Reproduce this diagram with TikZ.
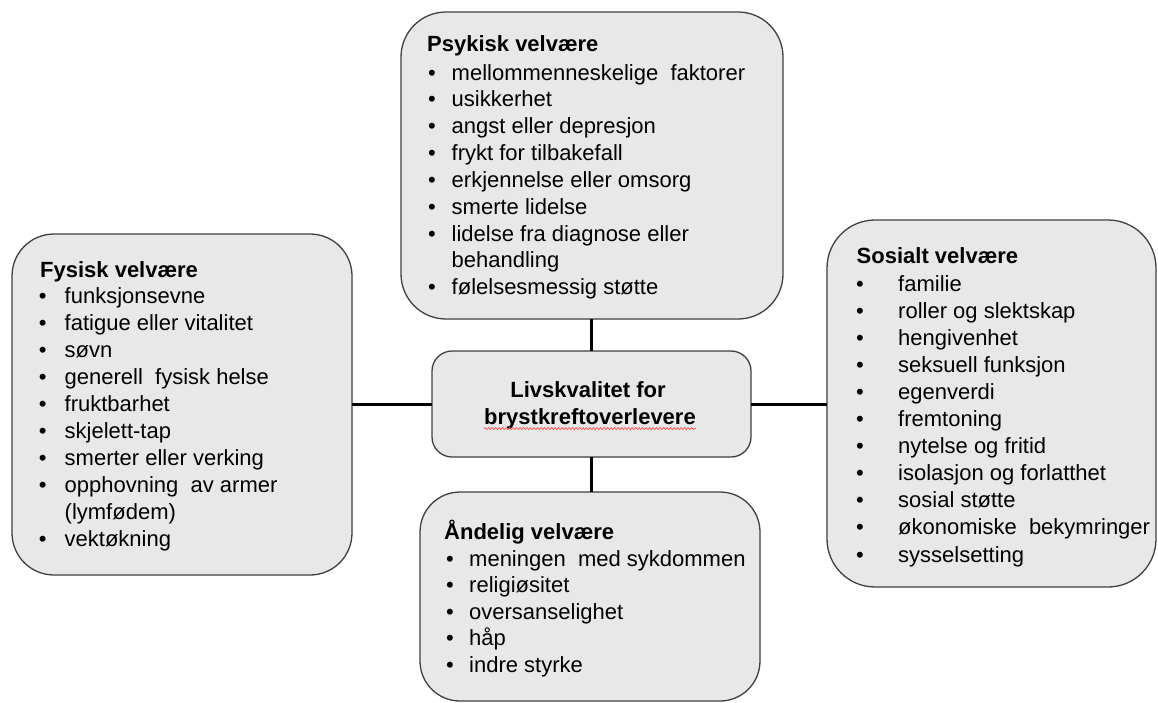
\documentclass[tikz,border=0pt]{standalone}
\usepackage{fontspec}
\setmainfont{Liberation Sans}
\usetikzlibrary{decorations.pathmorphing}
\definecolor{boxfill}{HTML}{E8E8E8}
\definecolor{boxline}{HTML}{404040}
\begin{document}
\begin{tikzpicture}[x=1pt,y=-1pt,
  panel/.style={draw=boxline, fill=boxfill, line width=1.3pt, inner sep=0pt, outer sep=0pt},
  head/.style={anchor=base west, inner sep=0pt, font=\fontsize{22}{26}\selectfont\bfseries},
  mid/.style={anchor=base, inner sep=0pt, font=\fontsize{22}{26}\selectfont\bfseries},
  entry/.style={anchor=base west, inner sep=0pt, font=\fontsize{22}{26}\selectfont},
  dot/.style={anchor=base, inner sep=0pt, font=\fontsize{22}{26}\selectfont},
  link/.style={line width=3pt, black}]
\useasboundingbox (0,0) rectangle (1158,702);

% panels
\node[panel, rounded corners=45pt, minimum width=382pt, minimum height=307pt] (ps) at (592,165.5) {};
\node[panel, rounded corners=42pt, minimum width=340pt, minimum height=341pt] (fy) at (182,404.5) {};
\node[panel, rounded corners=48pt, minimum width=329pt, minimum height=367pt] (so) at (991.5,403.5) {};
\node[panel, rounded corners=40pt, minimum width=340pt, minimum height=209pt] (an) at (590,596.5) {};
\node[panel, rounded corners=20pt, minimum width=319pt, minimum height=106pt] (ctr) at (591.5,404) {};

% connectors
\draw[link] (ctr.north) -- (ctr.north |- ps.south);
\draw[link] (ctr.south) -- (ctr.south |- an.north);
\draw[link] (ctr.west) -- (ctr.west -| fy.east);
\draw[link] (ctr.east) -- (ctr.east -| so.west);

% centre title
\node[mid] (c1) at (588,397) {Livskvalitet for};
\node[mid] (c2) at (590,424) {brystkreftoverlevere};
\draw[red!70, line width=0.7pt, decorate, decoration={snake, amplitude=0.9pt, segment length=3.5pt}]
  ([yshift=-4.5pt]c2.base west) -- ([yshift=-4.5pt]c2.base east);

% Psykisk
\node[head] (psh) at (427,51) {Psykisk velvære};
\foreach \t [count=\i] in {mellommenneskelige~~faktorer, usikkerhet, angst eller depresjon,
  frykt for tilbakefall, erkjennelse eller omsorg, smerte lidelse,
  lidelse fra diagnose eller, behandling, følelsesmessig støtte}
  \node[entry, name=psi\i] at (451.5,{80+(\i-1)*26.85}) {\t};
\foreach \i in {1,2,3,4,5,6,7,9}
  \node[dot, name=psd\i] at (432,{80+(\i-1)*26.85}) {•};

% Fysisk
\node[head] (fyh) at (40,277) {Fysisk velvære};
\foreach \t [count=\i] in {funksjonsevne, fatigue eller vitalitet, søvn,
  generell~~fysisk helse, fruktbarhet, skjelett-tap, smerter eller verking,
  opphovning~~av armer, (lymfødem), vektøkning}
  \node[entry, name=fyi\i] at (64.5,{303+(\i-1)*27.1}) {\t};
\foreach \i in {1,2,3,4,5,6,7,8,10}
  \node[dot, name=fyd\i] at (42.7,{303+(\i-1)*27.1}) {•};

% Sosialt
\node[head] (soh) at (856.5,263) {Sosialt velvære};
\foreach \t [count=\i] in {familie, roller og slektskap, hengivenhet,
  seksuell funksjon, egenverdi, fremtoning, nytelse og fritid,
  isolasjon og forlatthet, sosial støtte, økonomiske~~bekymringer, sysselsetting}
  \node[entry, name=soi\i] at (898,{291+(\i-1)*27.1}) {\t};
\foreach \i in {1,...,11}
  \node[dot, name=sod\i] at (860,{291+(\i-1)*27.1}) {•};

% Åndelig
\node[head] (anh) at (444,539) {Åndelig velvære};
\foreach \t [count=\i] in {meningen~~med sykdommen, religiøsitet,
  oversanselighet, håp, indre styrke}
  \node[entry, name=ani\i] at (469,{566+(\i-1)*26.5}) {\t};
\foreach \i in {1,...,5}
  \node[dot, name=and\i] at (450,{566+(\i-1)*26.5}) {•};
\end{tikzpicture}
\end{document}
